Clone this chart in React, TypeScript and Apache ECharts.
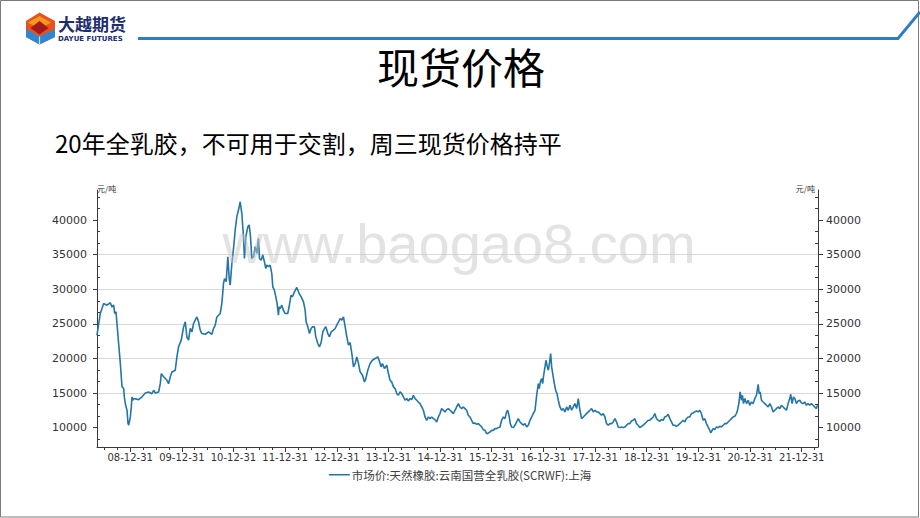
import React, { useEffect, useRef } from "react";
import * as echarts from "echarts";

// ---------- texts ----------
const pageTitle = "现货价格";
const pageSubtitle = "20年全乳胶，不可用于交割，周三现货价格持平";
const brandName = "大越期货";
const brandNameEn = "DAYUE FUTURES";
const watermark = "www.baogao8.com";
const yUnit = "元/吨";
const seriesName = "市场价:天然橡胶:云南国营全乳胶(SCRWF):上海";

// ---------- axes ----------
const xTickLabels = [
  "08-12-31", "09-12-31", "10-12-31", "11-12-31", "12-12-31", "13-12-31", "14-12-31",
  "15-12-31", "16-12-31", "17-12-31", "18-12-31", "19-12-31", "20-12-31", "21-12-31",
];
const yTickValues = [10000, 15000, 20000, 25000, 30000, 35000, 40000];
const xStart = 2008.356; // decimal year at the left edge
const xEnd = 2022.313; // decimal year at the right edge
const yMin = 7200;
const yMax = 44350;

// ---------- data (dates as decimal years, price in 元/吨) ----------
const dates2008_2011 = [
  2008.355, 2008.42, 2008.484, 2008.549, 2008.613, 2008.645, 2008.678, 2008.697, 2008.723, 2008.742,
  2008.774, 2008.807, 2008.839, 2008.871, 2008.884, 2008.903, 2008.936, 2008.955, 2008.968, 2008.987,
  2009.0, 2009.019, 2009.032, 2009.045, 2009.064, 2009.161, 2009.226, 2009.29, 2009.355, 2009.419,
  2009.451, 2009.484, 2009.548, 2009.58, 2009.6, 2009.645, 2009.677, 2009.709, 2009.741, 2009.774,
  2009.806, 2009.87, 2009.903, 2009.935, 2009.986, 2010.032, 2010.064, 2010.096, 2010.128, 2010.161,
  2010.193, 2010.225, 2010.257, 2010.29, 2010.322, 2010.354, 2010.386, 2010.451, 2010.515, 2010.58,
  2010.612, 2010.644, 2010.676, 2010.709, 2010.741, 2010.773, 2010.805, 2010.825, 2010.857, 2010.889,
  2010.915, 2010.934, 2010.967, 2010.999, 2011.031, 2011.063, 2011.095, 2011.128, 2011.16, 2011.192,
  2011.211, 2011.237, 2011.276, 2011.302, 2011.328, 2011.353, 2011.386, 2011.418, 2011.45, 2011.482,
  2011.502, 2011.534, 2011.566, 2011.598, 2011.624, 2011.643, 2011.676, 2011.708, 2011.74, 2011.76,
  2011.792, 2011.818, 2011.843, 2011.869,
];
const prices2008_2011 = [
  23350, 26500, 27950, 27700, 28050, 27450, 27700, 26500, 26750, 25050,
  22150, 19250, 15900, 15650, 14450, 13450, 12500, 10600, 10350, 11050,
  11550, 13000, 14450, 13950, 14200, 14050, 14450, 15000, 15150, 14900,
  15400, 15000, 15150, 16350, 17800, 17350, 17100, 16850, 16350, 17350,
  18050, 18300, 20250, 21700, 22650, 24550, 25300, 23100, 22650, 24350,
  23850, 25050, 25550, 26000, 25300, 24100, 23600, 23500, 23850, 23500,
  24350, 24800, 26000, 26250, 26500, 27950, 30850, 31550, 31100, 34700,
  31550, 30600, 33750, 35900, 38550, 40500, 41450, 42650, 40950, 37600,
  34450, 37600, 39050, 39300, 37600, 34450, 34700, 36150, 35200, 37350,
  34450, 34200, 34950, 33950, 33000, 33500, 33250, 33500, 32300, 30350,
  29850, 28900, 27950, 26250,
];
const dates2011_2015 = [
  2011.882, 2011.901, 2011.934, 2011.966, 2011.998, 2012.049, 2012.075, 2012.114, 2012.14, 2012.179,
  2012.224, 2012.269, 2012.308, 2012.353, 2012.385, 2012.404, 2012.437, 2012.469, 2012.501, 2012.527,
  2012.565, 2012.591, 2012.63, 2012.662, 2012.694, 2012.727, 2012.759, 2012.785, 2012.823, 2012.856,
  2012.888, 2012.933, 2012.965, 2012.997, 2013.03, 2013.062, 2013.094, 2013.126, 2013.159, 2013.191,
  2013.223, 2013.255, 2013.288, 2013.32, 2013.352, 2013.384, 2013.417, 2013.449, 2013.494, 2013.533,
  2013.559, 2013.597, 2013.642, 2013.687, 2013.739, 2013.791, 2013.816, 2013.855, 2013.881, 2013.919,
  2013.965, 2013.997, 2014.029, 2014.061, 2014.094, 2014.126, 2014.158, 2014.19, 2014.222, 2014.255,
  2014.287, 2014.319, 2014.351, 2014.384, 2014.416, 2014.448, 2014.48, 2014.513, 2014.545, 2014.577,
  2014.609, 2014.642, 2014.674, 2014.706, 2014.738, 2014.771, 2014.803, 2014.835, 2014.867, 2014.899,
  2014.932, 2014.964, 2014.996, 2015.028, 2015.061, 2015.093, 2015.125, 2015.157, 2015.19, 2015.222,
  2015.254, 2015.286, 2015.319, 2015.351,
];
const prices2011_2015 = [
  27450, 27200, 27700, 26980, 26500, 26500, 27460, 29150, 28910, 29630,
  30260, 29390, 28910, 28190, 26980, 25290, 24570, 23600, 24330, 24570,
  24570, 23120, 22160, 21670, 22300, 23850, 24330, 24570, 23600, 23120,
  23850, 24090, 24330, 24810, 25290, 25770, 25530, 26020, 24570, 23120,
  21920, 22300, 20710, 18780, 19260, 20230, 19260, 18060, 17570, 16610,
  17090, 18300, 19260, 19740, 19990, 20230, 19740, 18780, 19260, 18540,
  19020, 17820, 16850, 16610, 15890, 15640, 14920, 14680, 15160, 14920,
  14440, 13960, 14200, 13860, 14200, 14050, 14680, 14200, 13960, 13710,
  13470, 12990, 12510, 11540, 11060, 11540, 11300, 11540, 11300, 11160,
  10820, 11540, 12030, 12750, 12510, 12270, 12600, 12750, 12510, 12270,
  12030, 12510, 12990, 13470,
];
const dates2015_2018 = [
  2015.383, 2015.415, 2015.448, 2015.48, 2015.512, 2015.544, 2015.576, 2015.609, 2015.641, 2015.673,
  2015.705, 2015.738, 2015.77, 2015.802, 2015.834, 2015.867, 2015.899, 2015.931, 2015.963, 2015.995,
  2016.028, 2016.06, 2016.092, 2016.124, 2016.157, 2016.189, 2016.221, 2016.253, 2016.286, 2016.305,
  2016.331, 2016.357, 2016.382, 2016.415, 2016.447, 2016.479, 2016.511, 2016.544, 2016.576, 2016.608,
  2016.64, 2016.673, 2016.705, 2016.737, 2016.769, 2016.801, 2016.834, 2016.866, 2016.898, 2016.917,
  2016.937, 2016.963, 2016.982, 2017.001, 2017.027, 2017.046, 2017.066, 2017.092, 2017.117, 2017.137,
  2017.156, 2017.182, 2017.208, 2017.234, 2017.259, 2017.285, 2017.317, 2017.35, 2017.382, 2017.414,
  2017.446, 2017.479, 2017.511, 2017.543, 2017.575, 2017.607, 2017.64, 2017.672, 2017.704, 2017.736,
  2017.769, 2017.801, 2017.833, 2017.865, 2017.898, 2017.93, 2017.962, 2017.994, 2018.027, 2018.059,
  2018.091, 2018.123, 2018.155, 2018.188, 2018.22, 2018.252, 2018.284, 2018.317, 2018.349, 2018.381,
  2018.413, 2018.446, 2018.478, 2018.51, 2018.542, 2018.575, 2018.607, 2018.639, 2018.671, 2018.703,
  2018.736, 2018.768, 2018.8, 2018.832,
];
const prices2015_2018 = [
  12990, 12750, 12990, 12750, 12510, 11790, 11540, 11060, 10580, 10680,
  10480, 10580, 10340, 10100, 9710, 9610, 9130, 9230, 9370, 9610,
  9610, 9860, 9860, 10000, 10100, 11060, 11540, 11300, 12270, 12510,
  11790, 10580, 10100, 10000, 10340, 10820, 11300, 10820, 10580, 10340,
  10580, 10100, 10340, 11060, 11540, 12030, 12510, 14680, 16370, 15640,
  16610, 17090, 16370, 17570, 18780, 19740, 19020, 18300, 19500, 20710,
  18780, 17570, 16370, 15400, 14920, 13960, 12990, 12510, 12750, 12270,
  12990, 12510, 13230, 12510, 12990, 13470, 12750, 14200, 12510, 11300,
  11540, 11790, 12030, 12270, 12510, 12750, 12270, 12510, 12270, 12270,
  12030, 11790, 12030, 11540, 10580, 10340, 10580, 10580, 10820, 11300,
  10820, 10100, 10000, 10100, 10000, 10100, 10340, 10580, 10580, 10960,
  11060, 11300, 10580, 10340,
];
const dates2018_2022 = [
  2018.865, 2018.897, 2018.929, 2018.961, 2018.994, 2019.026, 2019.058, 2019.09, 2019.123, 2019.155,
  2019.187, 2019.219, 2019.252, 2019.284, 2019.316, 2019.348, 2019.38, 2019.413, 2019.445, 2019.477,
  2019.509, 2019.542, 2019.574, 2019.606, 2019.638, 2019.671, 2019.703, 2019.735, 2019.767, 2019.8,
  2019.832, 2019.864, 2019.896, 2019.929, 2019.961, 2019.993, 2020.025, 2020.057, 2020.09, 2020.122,
  2020.154, 2020.186, 2020.219, 2020.238, 2020.264, 2020.289, 2020.315, 2020.348, 2020.38, 2020.412,
  2020.444, 2020.477, 2020.509, 2020.541, 2020.573, 2020.606, 2020.638, 2020.67, 2020.702, 2020.734,
  2020.754, 2020.78, 2020.805, 2020.831, 2020.85, 2020.87, 2020.896, 2020.928, 2020.96, 2020.992,
  2021.025, 2021.057, 2021.089, 2021.121, 2021.154, 2021.173, 2021.192, 2021.218, 2021.25, 2021.283,
  2021.315, 2021.347, 2021.379, 2021.412, 2021.444, 2021.476, 2021.508, 2021.54, 2021.573, 2021.605,
  2021.637, 2021.669, 2021.702, 2021.734, 2021.766, 2021.785, 2021.811, 2021.837, 2021.863, 2021.895,
  2021.927, 2021.959, 2021.992, 2022.024, 2022.056, 2022.088, 2022.121, 2022.153, 2022.185, 2022.217,
  2022.25, 2022.282, 2022.301,
];
const prices2018_2022 = [
  10000, 10190, 10340, 10580, 10820, 11060, 11060, 11300, 11540, 12030,
  11300, 11060, 10920, 11160, 11060, 11540, 11640, 11930, 11300, 10820,
  10340, 10340, 10190, 10340, 10580, 10820, 11060, 10820, 11300, 11540,
  11540, 12030, 12120, 12270, 12410, 12270, 12510, 12030, 11060, 11300,
  10580, 10100, 9610, 9230, 9610, 9860, 9710, 10100, 10000, 10190,
  10100, 10340, 10580, 10580, 10820, 11060, 11300, 11540, 11640, 12030,
  12510, 13470, 15160, 13960, 14680, 13470, 14200, 13470, 13960, 13230,
  13710, 13470, 14200, 14680, 16270, 14920, 15160, 13960, 13710, 13470,
  13230, 12990, 13470, 12990, 12270, 12510, 12750, 12990, 12750, 13230,
  12990, 12750, 12510, 13470, 14200, 14820, 13470, 14440, 14200, 13470,
  13860, 13960, 13570, 13470, 13710, 13230, 13470, 13230, 13470, 13230,
  12990, 12750, 13230,
];

const dates = [...dates2008_2011, ...dates2011_2015, ...dates2015_2018, ...dates2018_2022];
const prices = [...prices2008_2011, ...prices2011_2015, ...prices2015_2018, ...prices2018_2022];

// ---------- helpers ----------
const decYearToTs = (d: number) => {
  const y = Math.floor(d);
  const a = Date.UTC(y, 0, 1);
  const b = Date.UTC(y + 1, 0, 1);
  return a + (d - y) * (b - a);
};
const labelToTs = (s: string) => {
  const [yy, mm, dd] = s.split("-").map(Number);
  return Date.UTC(2000 + yy, mm - 1, dd);
};

export default function App() {
  const ref = useRef<HTMLDivElement>(null);

  useEffect(() => {
    if (!ref.current) return;
    const chart = echarts.init(ref.current, undefined, { renderer: "svg" });

    const xMin = decYearToTs(xStart);
    const xMax = decYearToTs(xEnd);
    const xMajorTs = xTickLabels.map(labelToTs);
    const xMinorTs: number[] = [];
    for (let y = 2008; y <= 2022; y++) {
      for (const m of [2, 5, 8]) {
        const t = Date.UTC(y, m + 1, 0);
        if (t > xMin && t < xMax) xMinorTs.push(t);
      }
    }
    const yMinor: number[] = [];
    for (let v = 5000; v < yMax; v += 5000) {
      for (const f of [5000 / 3, 10000 / 3]) {
        const t = Math.round(v + f);
        if (t > yMin && t < yMax) yMinor.push(t);
      }
    }

    const axisColor = "#3a3a3a";
    const labelColor = "#333333";
    const lineColor = "#2376a5";
    const seriesData = dates.map((d, i) => [decYearToTs(d), prices[i]]);
    const plain = (v: number) => String(Math.round(v));

    const baseY = (position: "left" | "right") => ({
      type: "value" as const,
      min: yMin,
      max: yMax,
      position,
    });

    chart.setOption({
      animation: false,
      backgroundColor: "#ffffff",
      grid: { left: 97, right: 102, top: 190, height: 257 },
      legend: {
        data: [seriesName],
        left: "center",
        top: 464,
        icon: "rect",
        itemWidth: 21,
        itemHeight: 1.5,
        itemGap: 10,
        textStyle: { fontFamily: "Noto Sans CJK SC", fontSize: 11.5, color: "#404040", padding: [0, 0, 0, -3] },
      },
      xAxis: [
        {
          type: "value",
          min: xMin,
          max: xMax,
          position: "bottom",
          axisLine: { show: true, lineStyle: { color: axisColor, width: 1 } },
          axisTick: { show: true, customValues: xMajorTs, length: 5, lineStyle: { color: axisColor } },
          axisLabel: {
            customValues: xMajorTs,
            margin: 5,
            fontFamily: "DejaVu Sans",
            fontSize: 10,
            color: labelColor,
            formatter: (v: number) => {
              const i = xMajorTs.indexOf(v);
              return i >= 0 ? xTickLabels[i] : "";
            },
          },
          splitLine: { show: false },
        },
        {
          type: "value",
          min: xMin,
          max: xMax,
          position: "bottom",
          axisLine: { show: false },
          axisTick: { show: true, customValues: xMinorTs, length: 3, lineStyle: { color: axisColor } },
          axisLabel: { show: false },
          splitLine: { show: false },
        },
      ],
      yAxis: [
        {
          ...baseY("left"),
          name: yUnit,
          nameLocation: "end",
          nameGap: 2,
          nameTextStyle: { fontSize: 8, color: labelColor, align: "left", verticalAlign: "middle", fontFamily: "Noto Sans CJK SC" },
          axisLine: { show: true, lineStyle: { color: axisColor, width: 1 } },
          axisTick: { show: true, customValues: yTickValues, length: 4, lineStyle: { color: axisColor } },
          axisLabel: { customValues: yTickValues, margin: 10, fontFamily: "DejaVu Sans", fontSize: 11, color: labelColor, formatter: plain },
          splitLine: { show: true, showMinLine: false, showMaxLine: false, lineStyle: { color: "#d9d9d9", width: 1 } },
        },
        {
          ...baseY("right"),
          name: yUnit,
          nameLocation: "end",
          nameGap: 2,
          nameTextStyle: { fontSize: 8, color: labelColor, align: "right", verticalAlign: "middle", padding: [0, 3, 0, 0], fontFamily: "Noto Sans CJK SC" },
          axisLine: { show: true, lineStyle: { color: axisColor, width: 1 } },
          axisTick: { show: true, customValues: yTickValues, length: 5, lineStyle: { color: axisColor } },
          axisLabel: { customValues: yTickValues, margin: 8, fontFamily: "DejaVu Sans", fontSize: 11, color: labelColor, formatter: plain },
          splitLine: { show: false },
        },
        {
          ...baseY("left"),
          axisLine: { show: false },
          axisTick: { show: true, inside: true, customValues: yMinor, length: 3, lineStyle: { color: axisColor } },
          axisLabel: { show: false },
          splitLine: { show: false },
        },
        {
          ...baseY("right"),
          axisLine: { show: false },
          axisTick: { show: true, inside: true, customValues: yMinor, length: 3, lineStyle: { color: axisColor } },
          axisLabel: { show: false },
          splitLine: { show: false },
        },
      ],
      series: [
        {
          name: seriesName,
          type: "line",
          xAxisIndex: 0,
          yAxisIndex: 0,
          data: seriesData,
          symbol: "none",
          showSymbol: false,
          lineStyle: { color: lineColor, width: 1.6 },
          itemStyle: { color: lineColor },
          z: 3,
        },
      ],
      graphic: [
        {
          type: "rect",
          shape: { x: 0.5, y: 0.5, width: 918, height: 516.5 },
          style: { fill: "none", stroke: "#7a7a7a", lineWidth: 1 },
          silent: true,
        },
        {
          type: "polyline",
          shape: { points: [[138, 38.5], [898, 38.5], [920, 12]] },
          style: { fill: "none", stroke: "#2f7cc1", lineWidth: 3 },
          silent: true,
        },
        {
          type: "polygon",
          shape: { points: [[39.5, 12.5], [55, 21], [55, 37], [39.5, 44.5], [26, 37], [26, 21]] },
          style: { fill: "#e8521d" },
        },
        {
          type: "polygon",
          shape: { points: [[39.5, 16], [51, 22.5], [39.5, 29], [28, 22.5]] },
          style: { fill: "#f39a1e" },
        },
        {
          type: "polygon",
          shape: { points: [[39.5, 21], [48.5, 28], [39.5, 34.5], [30.5, 28]] },
          style: { fill: "#a5191d" },
        },
        {
          type: "polygon",
          shape: { points: [[26, 29], [39.5, 36.5], [55, 29], [55, 37], [39.5, 44.5], [26, 37]] },
          style: { fill: "#2f87d3" },
        },
        {
          type: "line",
          shape: { x1: 39.5, y1: 36.5, x2: 39.5, y2: 44.5 },
          style: { stroke: "#bfe6f7", lineWidth: 1.2 },
        },
        {
          type: "text",
          x: 58,
          y: 23,
          style: {
            text: brandName,
            fill: "#1d2d6e",
            font: "bold 17px 'Noto Sans CJK SC'",
            textAlign: "left",
            textVerticalAlign: "middle",
            align: "left",
            verticalAlign: "middle",
            lineHeight: 17,
          },
        },
        {
          type: "text",
          x: 58,
          y: 38.5,
          style: {
            text: brandNameEn,
            fill: "#1d2d6e",
            font: "bold 7px 'DejaVu Sans'",
            textAlign: "left",
            textVerticalAlign: "middle",
            align: "left",
            verticalAlign: "middle",
            lineHeight: 7,
          },
        },
        {
          type: "text",
          x: 461,
          y: 65,
          style: {
            text: pageTitle,
            fill: "#000000",
            font: "42px 'Noto Sans CJK SC'",
            textAlign: "center",
            textVerticalAlign: "middle",
            align: "center",
            verticalAlign: "middle",
          },
        },
        {
          type: "text",
          x: 55,
          y: 142,
          style: {
            text: pageSubtitle,
            fill: "#000000",
            font: "24px 'Noto Sans CJK SC'",
            textAlign: "left",
            textVerticalAlign: "middle",
            align: "left",
            verticalAlign: "middle",
          },
        },
        {
          type: "text",
          x: 459,
          y: 243,
          z: 100,
          silent: true,
          style: {
            text: watermark,
            fill: "rgba(200,200,200,0.5)",
            font: "56px 'Liberation Sans'",
            textAlign: "center",
            textVerticalAlign: "middle",
            align: "center",
            verticalAlign: "middle",
          },
        },
      ],
    });

    return () => chart.dispose();
  }, []);

  return (
    <div
      ref={ref}
      style={{ position: "fixed", left: 0, top: 0, width: 920, height: 518, background: "#fff" }}
    />
  );
}
